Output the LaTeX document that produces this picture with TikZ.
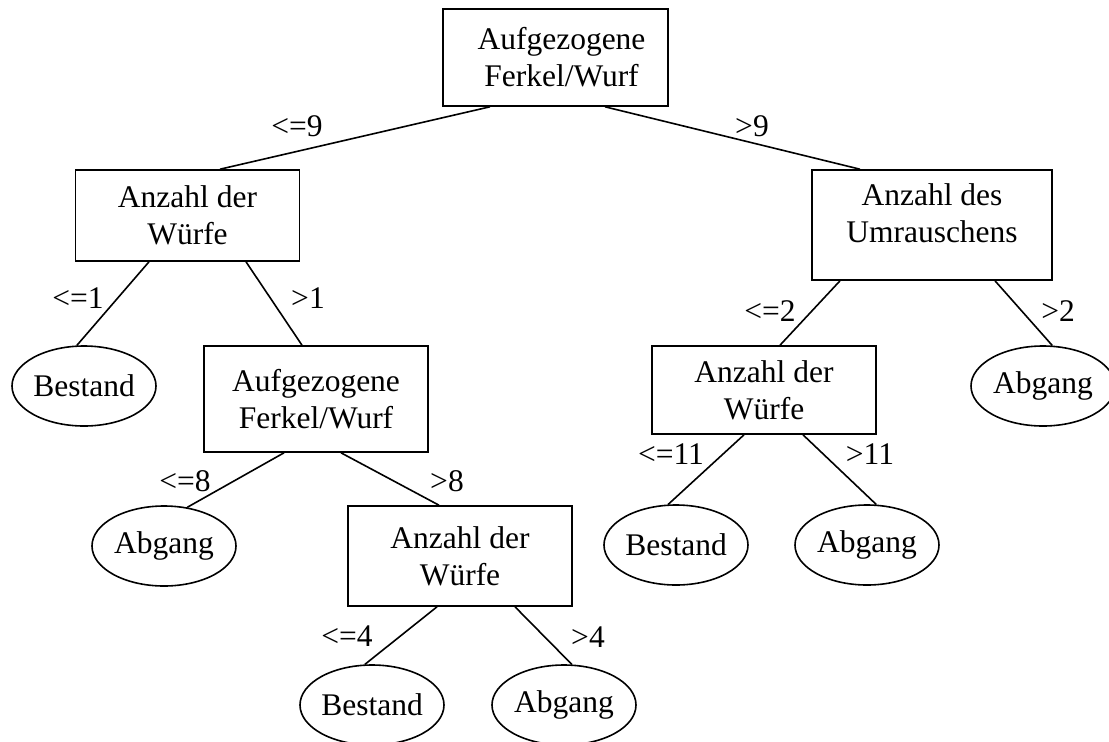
\documentclass[tikz,border=0pt]{standalone}
\usepackage{fontspec}
\setmainfont{Liberation Serif}
\usetikzlibrary{shapes.geometric}
\tikzset{
  attr/.style={draw, rectangle, line width=1.6pt, minimum width=224pt, inner sep=0pt, align=center, font=\fontsize{31.5}{37}\selectfont},
  leaf/.style={draw, ellipse, line width=1.6pt, minimum width=144pt, minimum height=80pt, inner sep=0pt, font=\fontsize{31.5}{37}\selectfont},
  cond/.style={inner sep=0pt, font=\fontsize{31.5}{37}\selectfont}
}
\begin{document}
\begin{tikzpicture}[x=1pt,y=-1pt,line width=1.6pt]
\useasboundingbox (0,0) rectangle (1109,742);
% splits
\node[attr, minimum width=225pt, minimum height=97pt] (root) at (555.5,57.5) {\hspace*{12pt}Aufgezogene\\\hspace*{12pt}Ferkel/Wurf};
\node[attr, minimum height=91pt] (wl) at (187.5,215.5) {Anzahl der\\Würfe};
\node[attr, minimum width=240pt, minimum height=110pt] (umr) at (932,225) {\raisebox{8pt}[\height][\depth]{\begin{tabular}{@{}c@{}}Anzahl des\\Umrauschens\end{tabular}}};
\node[attr, minimum height=106pt] (af2) at (316,399) {Aufgezogene\\Ferkel/Wurf};
\node[attr, minimum height=88pt] (wr) at (764,390) {Anzahl der\\Würfe};
\node[attr, minimum height=100pt] (wlow) at (460,556) {Anzahl der\\Würfe};
% leaves
\node[leaf] (b1) at (84,386) {Bestand};
\node[leaf] (a1) at (164,546) {Abgang};
\node[leaf] (b2) at (372,705) {Bestand};
\node[leaf] (a2) at (564,705) {Abgang};
\node[leaf] (b3) at (676,545) {Bestand};
\node[leaf] (a3) at (867,545) {Abgang};
\node[leaf] (a4) at (1043,386) {Abgang};
% branches
\draw ([xshift=-65.5pt]root.south) -- ([xshift=32.5pt]wl.north);
\draw ([xshift=49.5pt]root.south) -- ([xshift=-72pt]umr.north);
\draw ([xshift=-38.5pt]wl.south) -- (b1.100);
\draw ([xshift=58.5pt]wl.south) -- ([xshift=-14pt]af2.north);
\draw ([xshift=-32pt]af2.south) -- (a1.59);
\draw ([xshift=25pt]af2.south) -- ([xshift=-21pt]wlow.north);
\draw ([xshift=-23pt]wlow.south) -- (b2.100);
\draw ([xshift=55pt]wlow.south) -- (a2.79);
\draw ([xshift=-92pt]umr.south) -- ([xshift=16pt]wr.north);
\draw ([xshift=63pt]umr.south) -- (a4.77);
\draw ([xshift=-20pt]wr.south) -- (b3.101);
\draw ([xshift=39pt]wr.south) -- (a3.77);
% conditions
\node[cond] (c1) at (297,126) {<=9};
\node[cond] (c2) at (752,126) {>9};
\node[cond] (c3) at (78,298) {<=1};
\node[cond] (c4) at (308,298) {>1};
\node[cond] (c5) at (185,481) {<=8};
\node[cond] (c6) at (447,481) {>8};
\node[cond] (c7) at (347,636) {<=4};
\node[cond] (c8) at (588,637) {>4};
\node[cond] (c9) at (671,454) {<=11};
\node[cond] (c10) at (870,454) {>11};
\node[cond] (c11) at (770,311) {<=2};
\node[cond] (c12) at (1058,311) {>2};
\end{tikzpicture}
\end{document}
